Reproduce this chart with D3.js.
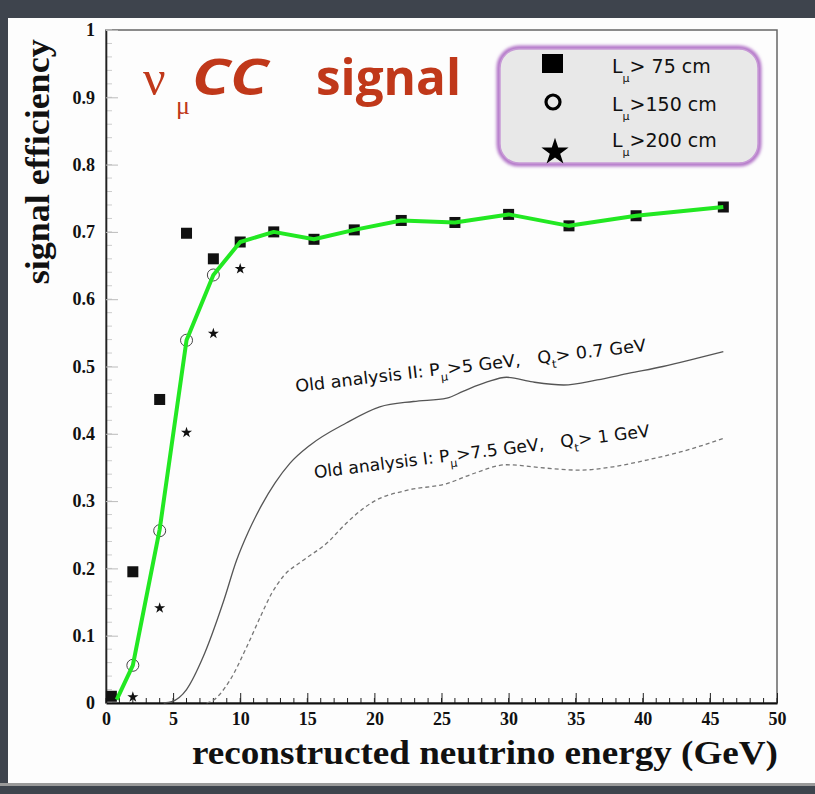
<!DOCTYPE html>
<html>
<head>
<meta charset="utf-8">
<script src="https://cdn.jsdelivr.net/npm/d3@7"></script>
<style>
  html, body { margin: 0; padding: 0; background: #3e444d; }
  svg { display: block; }
</style>
</head>
<body>
<svg id="chart" width="815" height="794"></svg>
<script>
// data
const xTicks = [0, 5, 10, 15, 20, 25, 30, 35, 40, 45, 50];
const yTicks = [0, 0.1, 0.2, 0.3, 0.4, 0.5, 0.6, 0.7, 0.8, 0.9, 1];
const yTickLabels = ['0', '0.1', '0.2', '0.3', '0.4', '0.5', '0.6', '0.7', '0.8', '0.9', '1'];

// L_mu > 75 cm (squares)
const energySq = [0.4, 2, 4, 6, 8, 10, 12.5, 15.5, 18.5, 22, 26, 30, 34.5, 39.5, 46];
const effSq    = [0.01, 0.195, 0.451, 0.698, 0.66, 0.685, 0.700, 0.689, 0.703, 0.717, 0.714, 0.726, 0.709, 0.724, 0.737];
// L_mu > 150 cm (open circles)
const energyCirc = [2, 4, 6, 8];
const effCirc    = [0.056, 0.256, 0.539, 0.636];
// L_mu > 200 cm (stars)
const energyStar = [2, 4, 6, 8, 10];
const effStar    = [0.009, 0.141, 0.402, 0.549, 0.645];
// green curve
const energyFit = [0.8, 2, 4, 6, 8, 10, 12.5, 15.5, 18.5, 22, 26, 30, 34.5, 39.5, 46];
const effFit    = [0.005, 0.056, 0.258, 0.539, 0.636, 0.685, 0.700, 0.689, 0.703, 0.717, 0.714, 0.726, 0.709, 0.724, 0.737];
// old analysis II (solid)
const energyOld2 = [4.3, 4.9, 6, 7.25, 8.74, 9.73, 10.6, 11.6, 12.6, 13.7, 15.2, 17.9, 20.4, 22.9, 25.4, 26.6, 28.4, 29.85, 31.8, 34.1, 36.6, 39, 41.5, 44, 46];
const effOld2    = [0, 0.002, 0.02, 0.069, 0.150, 0.212, 0.254, 0.294, 0.327, 0.356, 0.383, 0.416, 0.440, 0.448, 0.453, 0.463, 0.477, 0.484, 0.477, 0.4725, 0.48, 0.49, 0.50, 0.512, 0.522];
// old analysis I (dashed)
const energyOld1 = [7.5, 7.9, 9.24, 10.5, 11.5, 12.35, 13.2, 14.7, 16.7, 17.4, 20, 22.4, 25.4, 27.4, 29.85, 32.8, 35.3, 37.8, 40.3, 42.8, 46];
const effOld1    = [0, 0.003, 0.034, 0.084, 0.128, 0.163, 0.188, 0.212, 0.242, 0.257, 0.300, 0.316, 0.326, 0.341, 0.354, 0.349, 0.346, 0.351, 0.361, 0.373, 0.393];

const legendLabels = ['75 cm', '150 cm', '200 cm'];

const zip = (a, b) => a.map((v, i) => [v, b[i]]);

const svg = d3.select('#chart');

// slide background + white page
svg.append('rect').attr('x', 0).attr('y', 0).attr('width', 815).attr('height', 794).style('fill', '#3e444d');
svg.append('rect').attr('x', 8).attr('y', 18).attr('width', 807).attr('height', 765).style('fill', '#fdfdfd');
svg.append('rect').attr('x', 0).attr('y', 783).attr('width', 815).attr('height', 3).style('fill', '#9a9a9a');

const x = d3.scaleLinear().domain([0, 50]).range([106, 777]);
const y = d3.scaleLinear().domain([0, 1]).range([703, 30]);

const plot = svg.append('g');

// frame
plot.append('rect')
.attr('x', x(0)).attr('y', y(1))
.attr('width', x(50) - x(0)).attr('height', y(0) - y(1))
.style('fill', 'none').style('stroke', '#666').style('stroke-width', 1.5);

// y axis: faint inside ticks
const yMinor = d3.range(0, 1.0001, 0.02);
plot.selectAll('.yminor').data(yMinor).join('line')
.attr('x1', x(0)).attr('x2', x(0) + 6)
.attr('y1', d => y(d)).attr('y2', d => y(d))
.style('stroke', '#ccc').style('stroke-width', 1);

const yAxis = d3.axisLeft(y).tickValues(yTicks)
.tickFormat((d, i) => yTickLabels[i])
.tickSizeInner(-12).tickSizeOuter(0).tickPadding(11);
const gy = plot.append('g').attr('transform', `translate(${x(0)},0)`).call(yAxis);
gy.select('.domain').style('stroke', '#222').style('stroke-width', 1.6);
gy.selectAll('.tick line').style('stroke', '#bbb');
gy.selectAll('.tick text')
.style('font-family', '"Liberation Serif", serif').style('font-weight', 'bold')
.style('font-size', '18px').style('fill', '#111');

// x axis: ticks pointing up
const xMinor = d3.range(0, 50.001, 1);
plot.selectAll('.xminor').data(xMinor).join('line')
.attr('x1', d => x(d)).attr('x2', d => x(d))
.attr('y1', y(0)).attr('y2', y(0) - 5)
.style('stroke', '#222').style('stroke-width', 1);

const xAxis = d3.axisBottom(x).tickValues(xTicks)
.tickSizeInner(-10).tickSizeOuter(0).tickPadding(9);
const gx = plot.append('g').attr('transform', `translate(0,${y(0)})`).call(xAxis);
gx.select('.domain').style('stroke', '#111').style('stroke-width', 2);
gx.selectAll('.tick line').style('stroke', '#222');
gx.selectAll('.tick text')
.style('font-family', '"Liberation Serif", serif').style('font-weight', 'bold')
.style('font-size', '18px').style('fill', '#111');

// axis titles
svg.append('text')
.attr('transform', `translate(49,${(y(1) + y(0.62)) / 2 + 4}) rotate(-90)`)
.attr('text-anchor', 'middle')
.attr('textLength', 245).attr('lengthAdjust', 'spacingAndGlyphs')
.style('font-family', '"Liberation Serif", serif').style('font-weight', 'bold')
.style('font-size', '34px').style('fill', '#111')
.text('signal efficiency');

svg.append('text')
.attr('x', 192).attr('y', 764)
.attr('textLength', 586).attr('lengthAdjust', 'spacingAndGlyphs')
.style('font-family', '"Liberation Serif", serif').style('font-weight', 'bold')
.style('font-size', '34px').style('fill', '#111')
.text('reconstructed neutrino energy (GeV)');

// old analysis curves
const curve = d3.line().x(d => x(d[0])).y(d => y(d[1])).curve(d3.curveMonotoneX);

plot.append('path').datum(zip(energyOld2, effOld2))
.attr('d', curve)
.style('fill', 'none').style('stroke', '#555').style('stroke-width', 1.3);

plot.append('path').datum(zip(energyOld1, effOld1))
.attr('d', curve)
.style('fill', 'none').style('stroke', '#777').style('stroke-width', 1.3)
.style('stroke-dasharray', '4,3');

// markers
const sq = 11;
plot.selectAll('.sq').data(zip(energySq, effSq)).join('rect')
.attr('x', d => x(d[0]) - sq / 2).attr('y', d => y(d[1]) - sq / 2)
.attr('width', sq).attr('height', sq)
.style('fill', '#111');

plot.selectAll('.circ').data(zip(energyCirc, effCirc)).join('circle')
.attr('cx', d => x(d[0])).attr('cy', d => y(d[1])).attr('r', 6)
.style('fill', 'none').style('stroke', '#444').style('stroke-width', 1);

const star = d3.symbol().type(d3.symbolStar).size(38);
plot.selectAll('.star').data(zip(energyStar, effStar)).join('path')
.attr('transform', d => `translate(${x(d[0])},${y(d[1])})`)
.attr('d', star)
.style('fill', '#111');

// green line on top
plot.append('path').datum(zip(energyFit, effFit))
.attr('d', d3.line().x(d => x(d[0])).y(d => y(d[1])))
.style('fill', 'none').style('stroke', '#22e822').style('stroke-width', 4)
.style('stroke-linejoin', 'round');

// annotations along the old curves
function annot(e, v, angle, len, parts) {
  const t = plot.append('text')
  .attr('transform', `translate(${x(e)},${y(v)}) rotate(${angle})`)
  .attr('textLength', len).attr('lengthAdjust', 'spacingAndGlyphs')
  .style('font-family', '"DejaVu Sans", sans-serif')
  .style('font-size', '17px').style('fill', '#111')
  .style('white-space', 'pre');
  parts.forEach(p => {
    t.append('tspan')
    .attr('dy', p.sub ? 6 : (p.after ? -6 : 0))
    .style('font-size', p.sub ? '11px' : '17px')
    .text(p.s);
  });
}
annot(14.15, 0.462, -6.7, 353, [
  {s: 'Old analysis II: P'}, {s: 'μ', sub: true}, {s: '>5 GeV,   Q', after: true},
  {s: 't', sub: true}, {s: '> 0.7 GeV', after: true}
]);
annot(15.55, 0.334, -7.1, 338, [
  {s: 'Old analysis I: P'}, {s: 'μ', sub: true}, {s: '>7.5 GeV,   Q', after: true},
  {s: 't', sub: true}, {s: '> 1 GeV', after: true}
]);

// title
const red = '#c0381a';
const title = svg.append('g');
title.append('text').attr('x', 143).attr('y', 95)
.style('font-family', '"Liberation Serif", serif').style('font-size', '50px').style('fill', red)
.text('ν');
title.append('text').attr('x', 176).attr('y', 114)
.style('font-family', '"Liberation Serif", serif').style('font-size', '26px').style('fill', red)
.text('μ');
title.append('text').attr('x', 192).attr('y', 95)
.attr('textLength', 76).attr('lengthAdjust', 'spacingAndGlyphs')
.style('font-family', '"Open Sans", sans-serif').style('font-weight', 'bold').style('font-style', 'italic')
.style('font-size', '50px').style('fill', red)
.text('CC');
title.append('text').attr('x', 316).attr('y', 95)
.attr('textLength', 145).attr('lengthAdjust', 'spacingAndGlyphs')
.style('font-family', '"Open Sans", sans-serif').style('font-weight', 'bold')
.style('font-size', '50px').style('fill', red)
.text('signal');

// legend
const leg = svg.append('g');
const defs = svg.append('defs');
const glow = defs.append('filter').attr('id', 'glow').attr('x', '-10%').attr('y', '-10%').attr('width', '120%').attr('height', '120%');
glow.append('feGaussianBlur').attr('stdDeviation', 1.5);
leg.append('rect')
.attr('x', 499).attr('y', 48).attr('width', 260).attr('height', 116).attr('rx', 20)
.style('fill', 'none').style('stroke', '#b274c8').style('stroke-width', 5)
.attr('filter', 'url(#glow)');
leg.append('rect')
.attr('x', 500).attr('y', 49).attr('width', 258).attr('height', 114).attr('rx', 19)
.style('fill', '#e8e8e8').style('stroke', '#c79ad6').style('stroke-width', 1.5);

const legY = [64, 102, 138];
leg.append('rect').attr('x', 542).attr('y', legY[0] - 10).attr('width', 21).attr('height', 19).style('fill', '#000');
leg.append('circle').attr('cx', 553).attr('cy', legY[1]).attr('r', 7).style('fill', 'none').style('stroke', '#000').style('stroke-width', 3.2);
leg.append('path').attr('transform', `translate(555,${legY[2] + 14})`)
.attr('d', d3.symbol().type(d3.symbolStar).size(230)).style('fill', '#000');

legendLabels.forEach((lab, i) => {
  const t = leg.append('text').attr('x', 612).attr('y', legY[i] + 9)
  .style('font-family', '"DejaVu Sans", sans-serif').style('font-size', '19px').style('fill', '#111')
  .style('white-space', 'pre');
  t.append('tspan').text('L');
  t.append('tspan').attr('dy', 9).style('font-size', '11px').style('fill', '#111').text('μ');
  t.append('tspan').attr('dy', -9).text(i === 0 ? '> ' + lab : '>' + lab);
});
</script>
</body>
</html>
